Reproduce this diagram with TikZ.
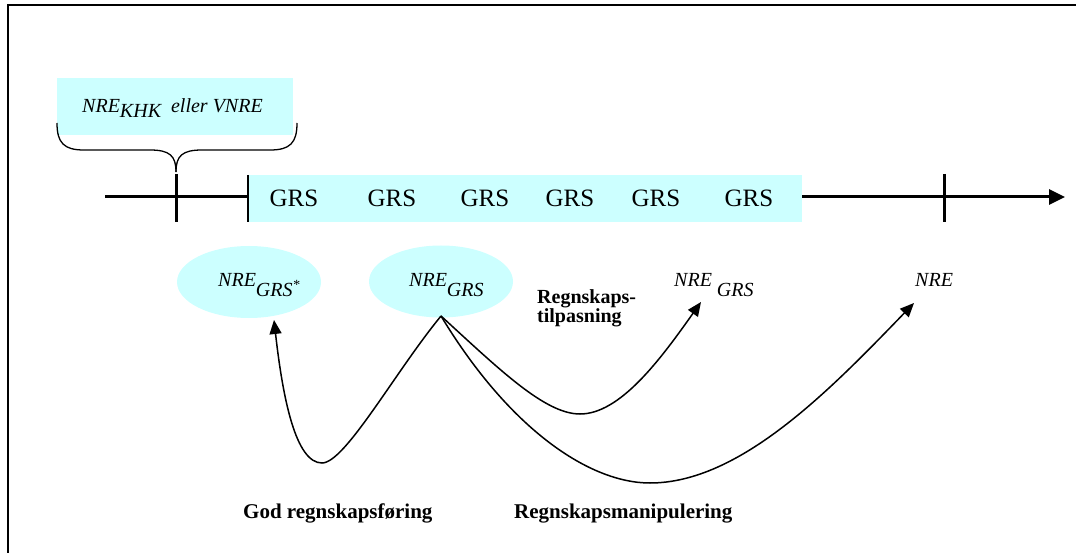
\documentclass[tikz,border=0pt]{standalone}
\usepackage{fontspec}
\setmainfont{Liberation Serif}
\usetikzlibrary{arrows.meta,shapes.geometric}
\definecolor{lightcyan}{HTML}{CCFFFF}
\begin{document}
\begin{tikzpicture}[x=1pt,y=-1pt,
  txt/.style={inner sep=0pt,anchor=base west},
  ital/.style={txt,font=\fontsize{20}{23}\selectfont\itshape},
  boldlbl/.style={txt,font=\fontsize{21}{24}\selectfont\bfseries},
  smallbold/.style={txt,font=\fontsize{20}{22}\selectfont\bfseries},
  grs/.style={inner sep=0pt,anchor=base,font=\fontsize{25}{28}\selectfont},
  blob/.style={ellipse,fill=lightcyan,minimum width=144pt,minimum height=72pt,inner sep=0pt},
  curve/.style={line width=1.5pt,-{Triangle[length=14pt,width=12pt]}},
  axis/.style={line width=3pt},
  tick/.style={line width=3pt}]
\useasboundingbox (0,0) rectangle (1076,553);
% frame
\draw[line width=2pt] (8,553) -- (8,5.5) -- (1076,5.5);

% label box with brace
\node[fill=lightcyan,minimum width=236pt,minimum height=57pt,inner sep=0pt,anchor=north west] (top) at (57,78) {};
\node[ital] (khk) at (82,113) {NRE\raisebox{-4.5pt}{KHK}\ \ eller VNRE};
\draw[line width=1.3pt] (57,123) .. controls (57,143) and (64,150) .. (84,150) -- (150,150)
      .. controls (170,150) and (176,156) .. (176,172);
\draw[line width=1.3pt] (297,123) .. controls (297,143) and (290,150) .. (270,150) -- (202,150)
      .. controls (182,150) and (176,156) .. (176,172);

% time line
\coordinate (ax0) at (105,197);
\coordinate (ax1) at (1065,197);
\draw[axis,-{Triangle[length=16pt,width=15pt]}] (ax0) -- (ax1);
\node[fill=lightcyan,minimum width=554pt,minimum height=47pt,inner sep=0pt,anchor=north west] (band) at (248,175) {};
\draw[line width=1.5pt] (band.north west) -- (band.south west);
\draw[tick] (176,174) -- (176,222);
\draw[tick] (944,174) -- (944,222);
\foreach \x/\n in {294/g1,392/g2,485/g3,570/g4,656/g5,749/g6}
  \node[grs] (\n) at (\x,207) {GRS};

% ellipses and result labels
\node[blob] (e1) at (249,282) {};
\node[blob] (e2) at (441,281.5) {};
\node[ital] (t1) at (218,287) {NRE\raisebox{-10pt}{GRS\textsuperscript{*}}};
\node[ital] (t2) at (409,287) {NRE\raisebox{-10pt}{GRS}};
\node[ital] (t3) at (674,287) {NRE \raisebox{-10pt}{GRS}};
\node[ital] (t4) at (915,287) {NRE};
\node[smallbold] (tilpA) at (537,303) {Regnskaps-};
\node[smallbold] (tilpB) at (537,323) {tilpasning};

% connectors
\coordinate (apex) at (441,316);
\coordinate (tipA) at (274,320);
\coordinate (tipB) at (701,302);
\coordinate (tipC) at (914,303);
\draw[curve] (apex) .. controls (395,372) and (345,463) .. (322,463)
  .. controls (296,463) and (283,400) .. (tipA);
\draw[curve] (apex) .. controls (500,370) and (545,414) .. (580,414)
  .. controls (620,414) and (660,360) .. (tipB);
\draw[curve] (apex) .. controls (510,430) and (590,483) .. (650,483)
  .. controls (740,483) and (830,390) .. (tipC);

% bottom captions
\node[boldlbl] (god) at (243,518) {God regnskapsføring};
\node[boldlbl] (manip) at (514,518) {Regnskapsmanipulering};
\end{tikzpicture}
\end{document}
